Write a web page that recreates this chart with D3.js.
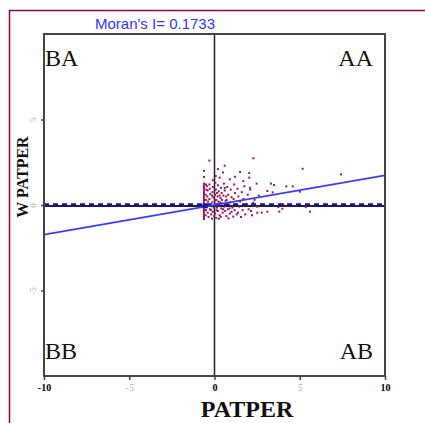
<!DOCTYPE html>
<html>
<head>
<meta charset="utf-8">
<script src="https://cdn.jsdelivr.net/npm/d3@7"></script>
<style>
  body { margin: 0; background: #fff; }
  svg { display: block; }
</style>
</head>
<body>
<div id="chart"></div>
<script>
// Moran scatter plot: PATPER vs its spatial lag
const moranI = 0.1733;
const xDomain = [-10, 10];
const yDomain = [-10, 10];
const xTicks = [-10, -5, 0, 5, 10];
const yTicks = [-5, 0, 5];
const strongTicks = [-10, 0, 10];
const quadrants = ["BA", "AA", "BB", "AB"];

// the stack of observations sitting at the minimum PATPER value
const minPatper = -0.62;
const minColumnLag = [2.0, 1.64, 1.25, 1.15, 1.05, 0.95, 0.85, 0.75, 0.65, 0.55, 0.45,
  0.35, 0.25, 0.15, 0.05, -0.05, -0.15, -0.25, -0.35, -0.45, -0.55, -0.65, -0.75, -0.82];

// remaining observations [PATPER, W_PATPER]
const observations = [
  [-0.5, 1.2], [-0.48, 0.9], [-0.52, 0.6], [-0.5, 0.3], [-0.47, 0.0], [-0.5, -0.3], [-0.52, -0.6],
  [-0.45, 1.1], [-0.4, 0.85], [-0.42, 0.5], [-0.38, 0.2], [-0.44, -0.1], [-0.4, -0.45], [-0.35, -0.7],
  [-0.3, 1.2], [-0.28, 0.95], [-0.25, 0.65], [-0.3, 0.35], [-0.22, 0.05], [-0.27, -0.25], [-0.2, -0.55],
  [-0.15, -0.8], [-0.1, 1.05], [-0.12, 0.75], [-0.08, 0.45], [-0.14, 0.15], [-0.05, -0.15], [-0.1, -0.4],
  [-0.02, -0.65], [0.05, 1.3], [0.08, 0.9], [0.03, 0.6], [0.1, 0.3], [0.06, 0.0], [0.12, -0.3],
  [0.04, -0.5], [0.1, -0.75], [0.2, 1.15], [0.25, 0.8], [0.18, 0.5], [0.22, 0.2], [0.28, -0.05],
  [0.2, -0.35], [0.3, -0.6], [0.25, -0.8], [0.38, 1.0], [0.42, 0.7], [0.35, 0.4], [0.45, 0.1],
  [0.4, -0.2], [0.48, -0.45], [0.36, -0.7], [0.55, 1.25], [0.6, 0.85], [0.52, 0.55], [0.65, 0.25],
  [0.58, -0.1], [0.62, -0.35], [0.7, -0.65], [0.75, 1.05], [0.8, 0.6], [0.72, 0.3], [0.85, 0.0],
  [0.78, -0.25], [0.9, -0.5], [0.82, -0.78], [0.95, 0.9], [1.0, 0.45], [0.92, 0.15], [1.05, -0.15],
  [1.0, -0.4], [1.1, -0.68], [1.15, 1.2], [1.2, 0.7], [1.12, 0.35], [1.25, 0.05], [1.18, -0.3],
  [1.3, -0.55], [1.35, 0.95], [1.4, 0.5], [1.45, -0.1], [1.38, -0.45], [1.5, 0.2], [1.55, -0.7],
  [1.6, 0.75], [1.65, -0.3], [1.7, 0.35], [1.75, 1.1], [1.8, -0.55], [1.9, 0.05], [1.95, 0.6],
  [2.0, -0.25], [2.1, 0.9], [2.2, -0.6], [2.35, 0.3], [2.5, -0.1], [2.6, 0.55],
  [-0.15, 0.55], [0.15, 0.7], [0.32, 0.15], [0.5, -0.25], [0.68, 0.5], [0.88, -0.2], [0.02, 0.25],
  [-0.35, 0.0], [0.14, -0.15], [0.44, 0.3], [0.74, 0.1], [-0.2, -0.3], [0.3, 0.55], [0.6, 1.0],
  [-0.3, 2.6], [0.6, 2.3], [0.07, 1.7], [1.5, 1.93], [2.04, 1.87], [2.28, 2.73], [1.69, 1.4],
  [2.04, 1.6], [2.47, 1.25], [3.31, 1.25], [3.49, 1.17], [4.21, 1.09], [4.59, 1.09], [3.1, 0.82],
  [3.41, 0.74], [5.01, 0.78], [2.28, 0.13], [3.74, -0.12], [3.98, -0.22], [3.8, -0.39], [3.1, -0.39],
  [2.51, -0.45], [2.77, -0.45], [5.35, -0.12], [5.6, -0.39], [2.14, -0.35], [4.04, 0.04], [2.08, 1.01],
  [5.17, 2.12], [7.42, 1.79], [0.3, 1.6], [0.9, 1.5], [-0.1, 1.45], [0.5, 1.9], [1.2, 1.65], [0.2, 2.1]
];

// dark marker at the mean
const meanMarker = [-0.55, -0.05];

const width = 425;
const height = 423;
const frame = { left: 44, right: 385, top: 34, bottom: 376 };

const COLORS = {
  border: "#99004c",
  frame: "#444",
  point: "#99195a",
  regression: "#3a3aff",
  zeroDash: "#1010b8",
  title: "#3333ff",
  faint: "#b0b0b0",
};

const svg = d3.select("#chart").append("svg")
  .attr("width", width)
  .attr("height", height);

// outer window border (top and left)
svg.append("path")
  .attr("d", `M9.5,${height} V10.5 H${width}`)
  .attr("fill", "none")
  .attr("stroke", COLORS.border)
  .attr("stroke-width", 1.5);

const x = d3.scaleLinear().domain(xDomain).range([frame.left, frame.right]);
const y = d3.scaleLinear().domain(yDomain).range([frame.bottom, frame.top]);

svg.append("defs").append("clipPath").attr("id", "plot-clip")
  .append("rect")
  .attr("x", frame.left).attr("y", frame.top)
  .attr("width", frame.right - frame.left)
  .attr("height", frame.bottom - frame.top);

// title
svg.append("text")
  .attr("x", 155)
  .attr("y", 29)
  .attr("text-anchor", "middle")
  .attr("fill", COLORS.title)
  .style("font-family", "'Liberation Sans', Arial, sans-serif")
  .style("font-size", "15px")
  .text(`Moran's I= ${moranI}`);

// zero lines
svg.append("line")
  .attr("x1", x(0)).attr("x2", x(0))
  .attr("y1", frame.top).attr("y2", frame.bottom)
  .attr("stroke", "#222").attr("stroke-width", 1.5);

svg.append("line")
  .attr("x1", frame.left).attr("x2", frame.right)
  .attr("y1", y(0) + 1).attr("y2", y(0) + 1)
  .attr("stroke", "#222").attr("stroke-width", 2);

const plot = svg.append("g").attr("clip-path", "url(#plot-clip)");

// points
const allPoints = minColumnLag.map((v) => [minPatper, v]).concat(observations);
plot.selectAll(".obs")
  .data(allPoints)
  .enter()
  .append("rect")
  .attr("class", "obs")
  .attr("x", (d) => x(d[0]) - 1)
  .attr("y", (d) => y(d[1]) - 1)
  .attr("width", 2)
  .attr("height", 2)
  .attr("fill", COLORS.point);

// dashed zero-lag line
plot.append("line")
  .attr("x1", frame.left).attr("x2", frame.right)
  .attr("y1", y(0) - 0.5).attr("y2", y(0) - 0.5)
  .attr("stroke", COLORS.zeroDash)
  .attr("stroke-width", 2.5)
  .attr("stroke-dasharray", "5,4");

// regression line, slope = Moran's I
plot.append("line")
  .attr("x1", x(xDomain[0])).attr("y1", y(moranI * xDomain[0]))
  .attr("x2", x(xDomain[1])).attr("y2", y(moranI * xDomain[1]))
  .attr("stroke", COLORS.regression)
  .attr("stroke-width", 1.8);

plot.append("rect")
  .attr("x", x(meanMarker[0]) - 2.5)
  .attr("y", y(meanMarker[1]) - 2.5)
  .attr("width", 5)
  .attr("height", 5)
  .attr("fill", "#1a1a8c");

// frame
svg.append("rect")
  .attr("x", frame.left).attr("y", frame.top)
  .attr("width", frame.right - frame.left)
  .attr("height", frame.bottom - frame.top)
  .attr("fill", "none")
  .attr("stroke", COLORS.frame)
  .attr("stroke-width", 2);

// x axis
const xAxis = svg.append("g")
  .attr("transform", `translate(0,${frame.bottom})`)
  .call(d3.axisBottom(x).tickValues(xTicks).tickSize(4).tickFormat(d3.format("d")));
xAxis.select(".domain").remove();
xAxis.selectAll(".tick line").attr("stroke", COLORS.frame).attr("stroke-width", 1.5);
xAxis.selectAll(".tick text")
  .attr("y", 8)
  .style("font-family", "'Liberation Serif', 'Times New Roman', serif")
  .style("font-size", "10px")
  .style("font-weight", (d) => (strongTicks.includes(d) ? "bold" : "normal"))
  .style("font-style", (d) => (strongTicks.includes(d) ? "normal" : "italic"))
  .attr("fill", (d) => (strongTicks.includes(d) ? "#000" : COLORS.faint))
  .text((d) => (d < 0 ? "-" + Math.abs(d) : d));

// y axis
const yAxis = svg.append("g")
  .attr("transform", `translate(${frame.left},0)`)
  .call(d3.axisLeft(y).tickValues(yTicks).tickSize(3).tickFormat(d3.format("d")));
yAxis.select(".domain").remove();
yAxis.selectAll(".tick line").attr("stroke", COLORS.frame).attr("stroke-width", 1.5);
yAxis.selectAll(".tick text")
  .attr("x", null)
  .attr("dy", null)
  .attr("transform", "translate(-8,0) rotate(-90)")
  .attr("text-anchor", "middle")
  .style("font-family", "'Liberation Serif', 'Times New Roman', serif")
  .style("font-size", "9px")
  .attr("fill", COLORS.faint)
  .text((d) => (d < 0 ? "-" + Math.abs(d) : d));

// quadrant labels
const quadFont = "'Liberation Serif', 'Times New Roman', serif";
const quadPos = [
  { label: quadrants[0], px: x(-10) + 1, py: 66, anchor: "start" },
  { label: quadrants[1], px: x(10) - 12, py: 66, anchor: "end" },
  { label: quadrants[2], px: x(-10) + 1, py: 359, anchor: "start" },
  { label: quadrants[3], px: x(10) - 12, py: 359, anchor: "end" },
];
svg.selectAll(".quad")
  .data(quadPos)
  .enter()
  .append("text")
  .attr("class", "quad")
  .attr("x", (d) => d.px)
  .attr("y", (d) => d.py)
  .attr("text-anchor", (d) => d.anchor)
  .style("font-family", quadFont)
  .style("font-size", "24px")
  .attr("fill", "#111")
  .text((d) => d.label);

// axis titles
svg.append("text")
  .attr("x", 247)
  .attr("y", 417)
  .attr("text-anchor", "middle")
  .style("font-family", quadFont)
  .style("font-size", "24px")
  .style("font-weight", "bold")
  .attr("fill", "#111")
  .text("PATPER");

svg.append("text")
  .attr("transform", "translate(28,177) rotate(-90)")
  .attr("text-anchor", "middle")
  .style("font-family", quadFont)
  .style("font-size", "16px")
  .style("font-weight", "bold")
  .attr("fill", "#111")
  .text("W PATPER");
</script>
</body>
</html>
